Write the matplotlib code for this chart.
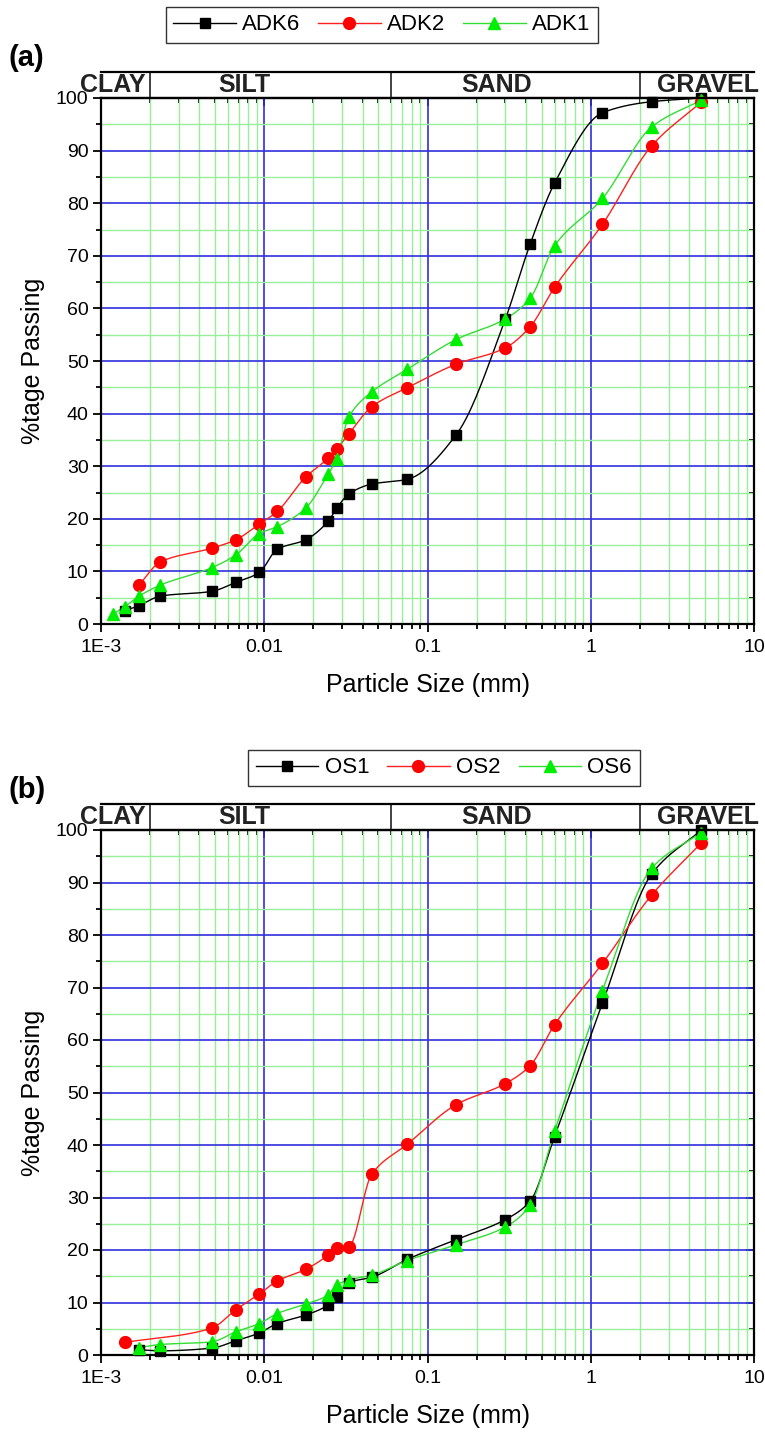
import numpy as np
import matplotlib
matplotlib.use("Agg")
import matplotlib.pyplot as plt
from matplotlib.ticker import LogLocator, FixedLocator, NullFormatter, FuncFormatter
from matplotlib.lines import Line2D

plt.rcParams['font.family'] = ['Liberation Sans', 'DejaVu Sans']

# ---------------- data ----------------
ADK6_d = [0.0014, 0.00171, 0.00231, 0.00476, 0.00668, 0.00933, 0.0120, 0.0179, 0.0246, 0.0278,
          0.0329, 0.0455, 0.075, 0.15, 0.3, 0.425, 0.6, 1.18, 2.36, 4.75]
ADK6_p = [2.5, 3.5, 5.3, 6.2, 7.9, 9.8, 14.2, 16.0, 19.5, 22.0,
          24.7, 26.6, 27.5, 36.0, 58.0, 72.2, 83.8, 97.2, 99.3, 100.0]

ADK2_d = [0.00171, 0.00231, 0.00476, 0.00668, 0.00933, 0.0120, 0.0179, 0.0246, 0.0278, 0.0329,
          0.0455, 0.075, 0.15, 0.3, 0.425, 0.6, 1.18, 2.36, 4.75]
ADK2_p = [7.4, 11.8, 14.4, 16.0, 19.0, 21.4, 27.9, 31.5, 33.3, 36.1,
          41.3, 44.9, 49.4, 52.5, 56.5, 64.0, 76.0, 90.9, 99.2]

ADK1_d = [0.00119, 0.0014, 0.00171, 0.00231, 0.00476, 0.00668, 0.00933, 0.0120, 0.0179, 0.0246,
          0.0278, 0.0329, 0.0455, 0.075, 0.15, 0.3, 0.425, 0.6, 1.18, 2.36, 4.75]
ADK1_p = [1.9, 3.3, 5.3, 7.4, 10.7, 13.1, 17.2, 18.5, 22.0, 28.5,
          31.4, 39.3, 44.1, 48.4, 54.1, 58.0, 61.9, 71.9, 80.9, 94.5, 99.6]

OS1_d = [0.00171, 0.00231, 0.00476, 0.00668, 0.00933, 0.0120, 0.0179, 0.0246, 0.0278, 0.0329,
         0.0455, 0.075, 0.15, 0.3, 0.425, 0.6, 1.18, 2.36, 4.75]
OS1_p = [1.0, 0.8, 1.3, 2.7, 4.2, 6.0, 7.6, 9.5, 11.1, 13.8,
         14.8, 18.2, 22.0, 25.8, 29.3, 41.6, 67.0, 91.6, 100.0]

OS2_d = [0.0014, 0.00476, 0.00668, 0.00933, 0.0120, 0.0179, 0.0246, 0.0278, 0.0329,
         0.0455, 0.075, 0.15, 0.3, 0.425, 0.6, 1.18, 2.36, 4.75]
OS2_p = [2.4, 5.1, 8.6, 11.6, 14.1, 16.3, 19.0, 20.4, 20.6,
         34.4, 40.1, 47.7, 51.7, 55.1, 62.9, 74.6, 87.6, 97.5]

OS6_d = [0.00171, 0.00231, 0.00476, 0.00668, 0.00933, 0.0120, 0.0179, 0.0246, 0.0278, 0.0329,
         0.0455, 0.075, 0.15, 0.3, 0.425, 0.6, 1.18, 2.36, 4.75]
OS6_p = [1.4, 2.0, 2.5, 4.4, 6.0, 7.9, 9.7, 11.4, 13.3, 14.3,
         15.2, 18.0, 21.0, 24.4, 28.5, 42.6, 69.4, 92.7, 99.5]

zone_names = ['CLAY', 'SILT', 'SAND', 'GRAVEL']
zone_bounds = [0.002, 0.06, 2.0]  # mm
xtick_vals = [0.001, 0.01, 0.1, 1, 10]
xtick_labels = ['1E-3', '0.01', '0.1', '1', '10']

panel_a = [('ADK6', ADK6_d, ADK6_p), ('ADK2', ADK2_d, ADK2_p), ('ADK1', ADK1_d, ADK1_p)]
panel_b = [('OS1', OS1_d, OS1_p), ('OS2', OS2_d, OS2_p), ('OS6', OS6_d, OS6_p)]

styles = [dict(color='black', mfc='black', marker='s', ms=7.5),
          dict(color='#ff2020', mfc='#ff0000', marker='o', ms=8.5),
          dict(color='#33dd33', mfc='#00ee00', marker='^', ms=9)]


def pchip(x, y, xn):
    x = np.asarray(x, float); y = np.asarray(y, float)
    h = np.diff(x); d = np.diff(y) / h
    n = len(x)
    m = np.zeros(n)
    for k in range(1, n - 1):
        if d[k - 1] * d[k] > 0:
            w1 = 2 * h[k] + h[k - 1]; w2 = h[k] + 2 * h[k - 1]
            m[k] = (w1 + w2) / (w1 / d[k - 1] + w2 / d[k])
        else:
            m[k] = 0.0
    m[0] = d[0]; m[-1] = d[-1]
    idx = np.clip(np.searchsorted(x, xn) - 1, 0, n - 2)
    t = (xn - x[idx]) / h[idx]
    h00 = 2 * t**3 - 3 * t**2 + 1; h10 = t**3 - 2 * t**2 + t
    h01 = -2 * t**3 + 3 * t**2; h11 = t**3 - t**2
    return h00 * y[idx] + h10 * h[idx] * m[idx] + h01 * y[idx + 1] + h11 * h[idx] * m[idx + 1]


W, H = 765, 1437
fig = plt.figure(figsize=(W / 100, H / 100), dpi=100)

L, R = 101, 754


def fr(left, top, right, bottom):
    return [left / W, 1 - bottom / H, (right - left) / W, (bottom - top) / H]


def make_panel(top, bottom, series, tag, leg_center):
    ax = fig.add_axes(fr(L, top, R, bottom))
    ax.set_xscale('log')
    ax.set_xlim(0.001, 10)
    ax.set_ylim(0, 100)
    ax.xaxis.set_major_locator(FixedLocator(xtick_vals))
    ax.xaxis.set_major_formatter(FuncFormatter(lambda v, p: xtick_labels[xtick_vals.index(v)] if v in xtick_vals else ''))
    ax.xaxis.set_minor_locator(LogLocator(base=10, subs=np.arange(2, 10), numticks=20))
    ax.xaxis.set_minor_formatter(NullFormatter())
    ax.yaxis.set_major_locator(FixedLocator(np.arange(0, 101, 10)))
    ax.yaxis.set_minor_locator(FixedLocator(np.arange(5, 100, 10)))
    ax.grid(True, which='minor', color='#99ee99', lw=1.0, zorder=0)
    ax.grid(True, which='major', color='#3030dd', lw=1.2, zorder=0)
    ax.set_axisbelow(True)
    for s in ax.spines.values():
        s.set_linewidth(1.6)
    ax.tick_params(which='both', labelsize=14, width=1.3, direction='out',
                   top=False, right=False)
    ax.tick_params(which='major', length=6)
    ax.tick_params(which='minor', length=3.5)
    ax.tick_params(axis='y', pad=3)
    ax.tick_params(axis='x', pad=5)
    sx = ax.secondary_xaxis('top')
    sx.xaxis.set_major_locator(FixedLocator(xtick_vals))
    sx.xaxis.set_minor_locator(LogLocator(base=10, subs=np.arange(2, 10), numticks=20))
    sx.tick_params(which='both', direction='in', labeltop=False, width=1.3)
    sx.tick_params(which='major', length=6)
    sx.tick_params(which='minor', length=3.5)
    sx.xaxis.set_major_formatter(NullFormatter()); sx.xaxis.set_minor_formatter(NullFormatter())
    sy = ax.secondary_yaxis('right')
    sy.yaxis.set_major_locator(FixedLocator(np.arange(0, 101, 10)))
    sy.yaxis.set_minor_locator(FixedLocator(np.arange(5, 100, 10)))
    sy.tick_params(which='both', direction='in', labelright=False, width=1.3)
    sy.tick_params(which='major', length=6)
    sy.tick_params(which='minor', length=3.5)
    for sec in (sx, sy):
        for s in sec.spines.values():
            s.set_visible(False)

    ax.set_xlabel('Particle Size (mm)', fontsize=18, labelpad=12)
    ax.set_ylabel('%tage Passing', fontsize=18, labelpad=8)

    handles = []
    for (name, d, p), st in zip(series, styles):
        d = np.asarray(d); p = np.asarray(p)
        lx = np.log10(d)
        xn = np.linspace(lx[0], lx[-1], 400)
        yn = pchip(lx, p, xn)
        ax.plot(10**xn, yn, color=st['color'], lw=1.0, zorder=3, clip_on=False)
        ax.plot(d, p, ls='none', marker=st['marker'], ms=st['ms'], mfc=st['mfc'],
                mec=st['mfc'], zorder=4, clip_on=False)
        handles.append(Line2D([], [], color=st['color'], lw=1.0, marker=st['marker'],
                              ms=st['ms'], mfc=st['mfc'], mec=st['mfc']))

    # zone band
    band = fig.add_axes(fr(L, top - 26, R, top))
    band.set_xscale('log')
    band.set_xlim(0.001, 10)
    band.set_ylim(0, 1)
    band.set_xticks([]); band.set_yticks([])
    band.minorticks_off()
    band.spines['left'].set_visible(False)
    band.spines['right'].set_visible(False)
    band.spines['top'].set_linewidth(1.6)
    band.spines['bottom'].set_linewidth(1.6)
    band.patch.set_alpha(0)
    for b in zone_bounds:
        band.axvline(b, color='#333333', lw=1.3)
    for name, xf in zip(zone_names, [0.018, 0.219, 0.606, 0.930]):
        band.text(xf, 0.5, name, transform=band.transAxes, ha='center', va='center',
                  fontsize=18, fontweight='bold', color='#222222', clip_on=False)

    fig.text(9 / W, 1 - (top - 40) / H, tag, fontsize=21, fontweight='bold',
             ha='left', va='center')

    leg = fig.legend(handles, [s[0] for s in series], loc='center',
                     bbox_to_anchor=(leg_center[0] / W, 1 - leg_center[1] / H),
                     ncol=3, frameon=True, fancybox=False, edgecolor='black',
                     fontsize=16, handlelength=2.8, handletextpad=0.3, columnspacing=0.8,
                     borderpad=0.35)
    leg.get_frame().set_linewidth(1.0)
    return ax


make_panel(98, 624, panel_a, '(a)', (382, 25))
make_panel(830, 1355, panel_b, '(b)', (444, 768))

fig.savefig('out.png', dpi=100)
